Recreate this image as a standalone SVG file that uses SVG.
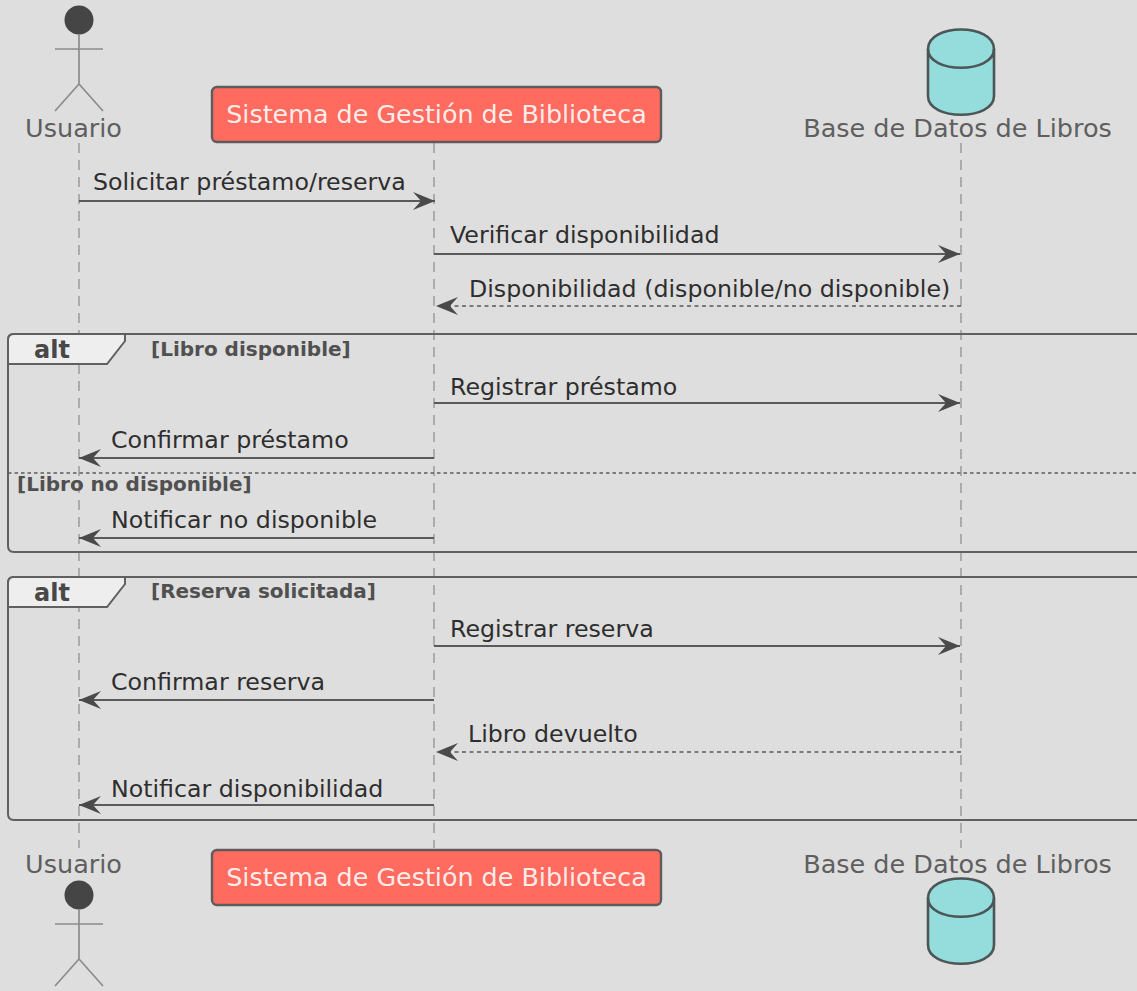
<svg xmlns="http://www.w3.org/2000/svg" width="1137" height="991" viewBox="0 0 1137 991">
<style>
text{font-family:"DejaVu Sans",sans-serif}
.life{stroke:#8a8a8a;stroke-width:1.2;stroke-dasharray:10 7;fill:none}
.act{stroke:#8c8c8c;stroke-width:1.7;fill:none}
.pname{font-size:25.5px;fill:#5f5f5f;text-anchor:middle}
.box{fill:#ff6b5e;stroke:#5c5c5c;stroke-width:2.4}
.boxt{font-size:25.4px;fill:#fff;text-anchor:middle;fill-opacity:.9}
.db{fill:#95dddd;stroke:#4c5656;stroke-width:2.6}
.msg{font-size:23.7px;fill:#2e2e2e}
.ln{stroke:#5a5a5a;stroke-width:2;fill:none}
.dash{stroke-dasharray:4 3.5;stroke-width:1.5}
.frame{fill:none;stroke:#606060;stroke-width:2}
.tab{fill:#eeeeee;stroke:#606060;stroke-width:2}
.alt{font-size:24px;font-weight:bold;fill:#484848}
.guard{font-size:20px;font-weight:bold;fill:#505050}
</style>
<defs>
<marker id="head" markerUnits="userSpaceOnUse" markerWidth="24" markerHeight="20" refX="22" refY="10" orient="auto-start-reverse" viewBox="0 0 24 20">
<path d="M0 1 L22 10 L0 19 L8 10 Z" fill="#4a4a4a"/>
</marker>
</defs>
<rect width="1137" height="991" fill="#dedede"/>
<g id="lifelines">
<path class="life" d="M79 143V848"/>
<path class="life" d="M434 143V848"/>
<path class="life" d="M961 143V848"/>
</g>
<g id="fragments">
<g id="alt-1">
<path class="frame" d="M1139 334H14q-6 0-6 6V546q0 6 6 6H1139"/>
<path class="tab" d="M14 334H125V341L107 364H8V340q0-6 6-6Z"/>
<text class="alt" x="34" y="358">alt</text>
<text class="guard" x="151" y="356">[Libro disponible]</text>
<path d="M8 473H1137" stroke="#5c5c5c" stroke-width="1.5" stroke-dasharray="3.5 3" fill="none"/>
<text class="guard" x="17" y="491">[Libro no disponible]</text>
</g>
<g id="alt-2">
<path class="frame" d="M1139 577H14q-6 0-6 6V814q0 6 6 6H1139"/>
<path class="tab" d="M14 577H125V584L107 607H8V583q0-6 6-6Z"/>
<text class="alt" x="34" y="601">alt</text>
<text class="guard" x="151" y="598">[Reserva solicitada]</text>
</g>
</g>
<g id="connectors">
<path class="ln" d="M79 201H435" marker-end="url(#head)"/>
<path class="ln" d="M434 254H960" marker-end="url(#head)"/>
<path class="ln dash" d="M961 306H436" marker-end="url(#head)"/>
<path class="ln" d="M434 403H960" marker-end="url(#head)"/>
<path class="ln" d="M434 458H79" marker-end="url(#head)"/>
<path class="ln" d="M434 538H79" marker-end="url(#head)"/>
<path class="ln" d="M434 646H960" marker-end="url(#head)"/>
<path class="ln" d="M434 700H79" marker-end="url(#head)"/>
<path class="ln dash" d="M961 752H436" marker-end="url(#head)"/>
<path class="ln" d="M434 805H79" marker-end="url(#head)"/>
</g>
<g id="labels">
<text class="msg" x="93" y="190">Solicitar préstamo/reserva</text>
<text class="msg" x="450" y="243">Verificar disponibilidad</text>
<text class="msg" x="469" y="297">Disponibilidad (disponible/no disponible)</text>
<text class="msg" x="450" y="395">Registrar préstamo</text>
<text class="msg" x="111" y="448">Confirmar préstamo</text>
<text class="msg" x="111" y="528">Notificar no disponible</text>
<text class="msg" x="450" y="637">Registrar reserva</text>
<text class="msg" x="111" y="690">Confirmar reserva</text>
<text class="msg" x="468" y="742">Libro devuelto</text>
<text class="msg" x="111" y="797">Notificar disponibilidad</text>
</g>
<g id="actor-top">
<circle cx="79" cy="20" r="14.500" fill="#454545"/>
<path class="act" d="M79 34V84M55 49H103M79 84L55 111M79 84L103 111"/>
<text class="pname" x="73.500" y="137">Usuario</text>
</g>
<g id="system-top">
<rect class="box" x="212" y="87" width="449" height="55" rx="5"/>
<text class="boxt" x="436.500" y="123">Sistema de Gestión de Biblioteca</text>
</g>
<g id="db-top">
<path class="db" d="M928 49C928 23 994 23 994 49V96C994 121 928 121 928 96Z"/>
<path class="db" style="fill:none" d="M928 49C928 74 994 74 994 49"/>
<text class="pname" x="957.500" y="137">Base de Datos de Libros</text>
</g>
<g id="actor-bottom">
<circle cx="79" cy="895" r="14.500" fill="#454545"/>
<path class="act" d="M79 909V959M55 924H103M79 959L55 986M79 959L103 986"/>
<text class="pname" x="73.500" y="873">Usuario</text>
</g>
<g id="system-bottom">
<rect class="box" x="212" y="850" width="449" height="55" rx="5"/>
<text class="boxt" x="436.500" y="886">Sistema de Gestión de Biblioteca</text>
</g>
<g id="db-bottom">
<path class="db" d="M928 898C928 872 994 872 994 898V945C994 970 928 970 928 945Z"/>
<path class="db" style="fill:none" d="M928 898C928 923 994 923 994 898"/>
<text class="pname" x="957.500" y="873">Base de Datos de Libros</text>
</g>
</svg>
